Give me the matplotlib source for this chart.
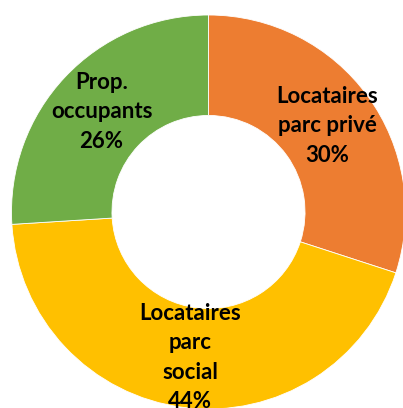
import numpy as np
import matplotlib
matplotlib.use('Agg')
import matplotlib.pyplot as plt

# données
categories = ['Locataires\nparc privé', 'Locataires\nparc\nsocial', 'Prop.\noccupants']
parts = [30, 44, 26]
couleurs = ['#ED7D31', '#FFC000', '#70AD47']

plt.rcParams['font.family'] = ['Lato', 'DejaVu Sans']

fig = plt.figure(figsize=(4.03, 4.08), dpi=100)
ax = fig.add_axes([0, 0, 1, 1])

r_int = 0.49
wedges, _ = ax.pie(parts, colors=couleurs, startangle=90, counterclock=False,
                   radius=1.0, wedgeprops=dict(width=1 - r_int, edgecolor='white', linewidth=0.6))

# étiquettes au milieu de l'anneau
r_mid = (1 + r_int) / 2
for w, cat, p in zip(wedges, categories, parts):
    ang = np.deg2rad((w.theta1 + w.theta2) / 2)
    ax.text(r_mid * np.cos(ang), r_mid * np.sin(ang), f'{cat}\n{p}%',
            ha='center', va='center', fontsize=16, fontweight='bold',
            linespacing=1.5, color='black')

ax.set_xlim(-208.5 / 197, 194.5 / 197)
ax.set_ylim(-196 / 197, 212 / 197)
ax.set_aspect('equal')
ax.axis('off')

fig.savefig('out.png', dpi=100, facecolor='white')
